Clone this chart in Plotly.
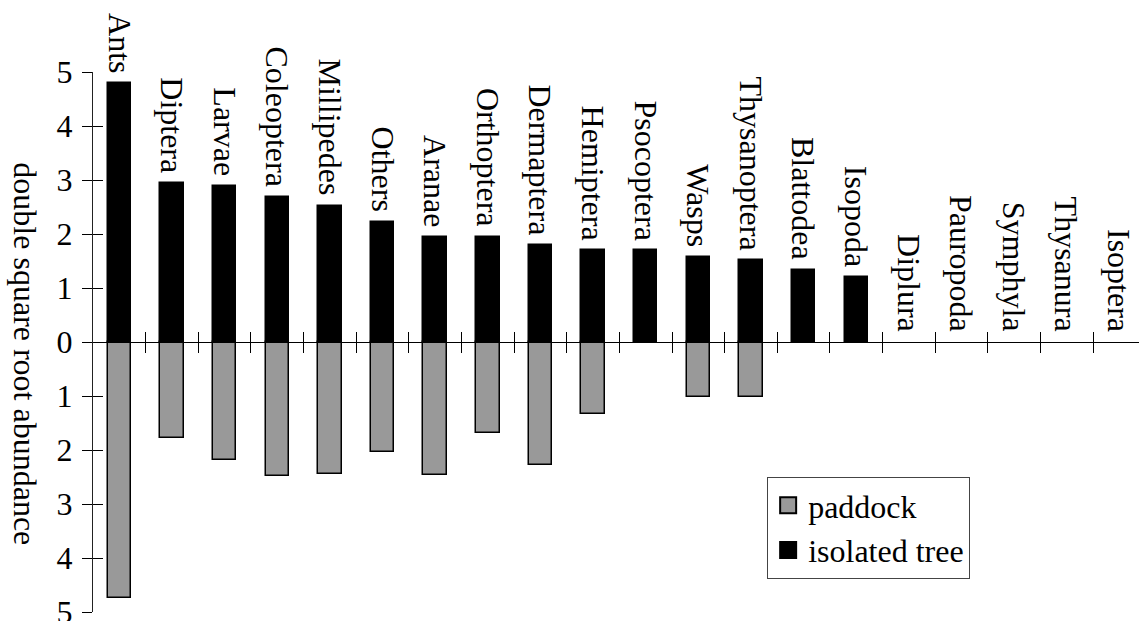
import plotly.graph_objects as go

# Taxa, ordered by abundance under isolated trees
categories = ["Ants", "Diptera", "Larvae", "Coleoptera", "Millipedes", "Others",
              "Aranae", "Orthoptera", "Dermaptera", "Hemiptera", "Psocoptera",
              "Wasps", "Thysanoptera", "Blattodea", "Isopoda", "Diplura",
              "Pauropoda", "Symphyla", "Thysanura", "Isoptera"]

# double square root abundance
isolated_tree = [4.79, 2.94, 2.88, 2.69, 2.52, 2.23, 1.94, 1.94, 1.79, 1.70,
                 1.70, 1.57, 1.51, 1.33, 1.21, 0, 0, 0, 0, 0]
paddock = [4.74, 1.78, 2.18, 2.48, 2.44, 2.04, 2.46, 1.69, 2.27, 1.33,
           0, 1.01, 1.01, 0, 0, 0, 0, 0, 0, 0]

y_tick_vals = [5, 4, 3, 2, 1, 0, -1, -2, -3, -4, -5]
y_tick_text = ["5", "4", "3", "2", "1", "0", "1", "2", "3", "4", "5"]

FONT = "Liberation Serif"
FS = 32
GRAY = "#999999"

idx = list(range(len(categories)))


def outline(values):
    # no outline on empty bars, so nothing is drawn for them
    return [1.5 if v else 0 for v in values]


fig = go.Figure()
fig.add_trace(go.Bar(x=idx, y=[-v for v in paddock], name="paddock",
                     marker=dict(color=GRAY, line=dict(color="black", width=outline(paddock))),
                     width=0.445, showlegend=False))
fig.add_trace(go.Bar(x=idx, y=isolated_tree, name="isolated tree",
                     marker=dict(color="black", line=dict(color="black", width=outline(isolated_tree))),
                     width=0.445, showlegend=False))

# legend entries with larger square swatches, on the overlay axes
fig.add_trace(go.Scatter(x=[None], y=[None], mode="markers", name="paddock",
                         marker=dict(symbol="square", size=16, color=GRAY,
                                     line=dict(color="black", width=2)),
                         xaxis="x2", yaxis="y2"))
fig.add_trace(go.Scatter(x=[None], y=[None], mode="markers", name="isolated tree",
                         marker=dict(symbol="square", size=16, color="black",
                                     line=dict(color="black", width=2)),
                         xaxis="x2", yaxis="y2"))

# category names written above each bar, reading downward
for i, name in enumerate(categories):
    fig.add_annotation(x=i, y=max(isolated_tree[i], 0), text=name,
                       textangle=90, showarrow=False, xanchor="center",
                       yanchor="bottom", yshift=8,
                       font=dict(family=FONT, size=FS, color="black"))

fig.add_annotation(xref="paper", yref="paper", x=-0.0645, y=0.478,
                   text="double square root abundance", textangle=90,
                   showarrow=False, xanchor="center", yanchor="middle",
                   font=dict(family=FONT, size=FS, color="black"))

x_bounds = [k + 0.5 for k in range(len(categories) - 1)]
x_range = [-0.5, 19.37]

common_x = dict(range=x_range, tickmode="array", tickvals=x_bounds,
                showticklabels=False, showgrid=False, zeroline=False,
                showline=True, linecolor="black", linewidth=1,
                ticklen=10, tickwidth=1, tickcolor="black",
                anchor="free", position=0.5, automargin=False)
common_y = dict(range=[-5, 5], tickmode="array", tickvals=y_tick_vals,
                showgrid=False, zeroline=False, showline=True,
                linecolor="#222222", linewidth=1, ticklen=10, tickwidth=1,
                tickcolor="black", automargin=False)

fig.update_layout(
    width=1139, height=621,
    margin=dict(l=93, r=0, t=72, b=9, autoexpand=False),
    paper_bgcolor="white", plot_bgcolor="white",
    barmode="relative", bargap=0,
    font=dict(family=FONT, size=FS, color="black"),
    xaxis=dict(ticks="outside", **common_x),
    xaxis2=dict(ticks="inside", overlaying="x", side="bottom", **common_x),
    yaxis=dict(ticks="outside", ticktext=y_tick_text, ticklabelstandoff=3,
               ticklabeloverflow="allow",
               tickfont=dict(family=FONT, size=FS, color="black"), **common_y),
    yaxis2=dict(ticks="inside", overlaying="y", side="left", anchor="x",
                showticklabels=False, **common_y),
    legend=dict(x=0.6445, y=0.25, xanchor="left", yanchor="top",
                bordercolor="#444444", borderwidth=1, bgcolor="white",
                font=dict(family=FONT, size=FS, color="black"),
                itemwidth=30, tracegroupgap=0),
)

fig.write_html("out.html")
